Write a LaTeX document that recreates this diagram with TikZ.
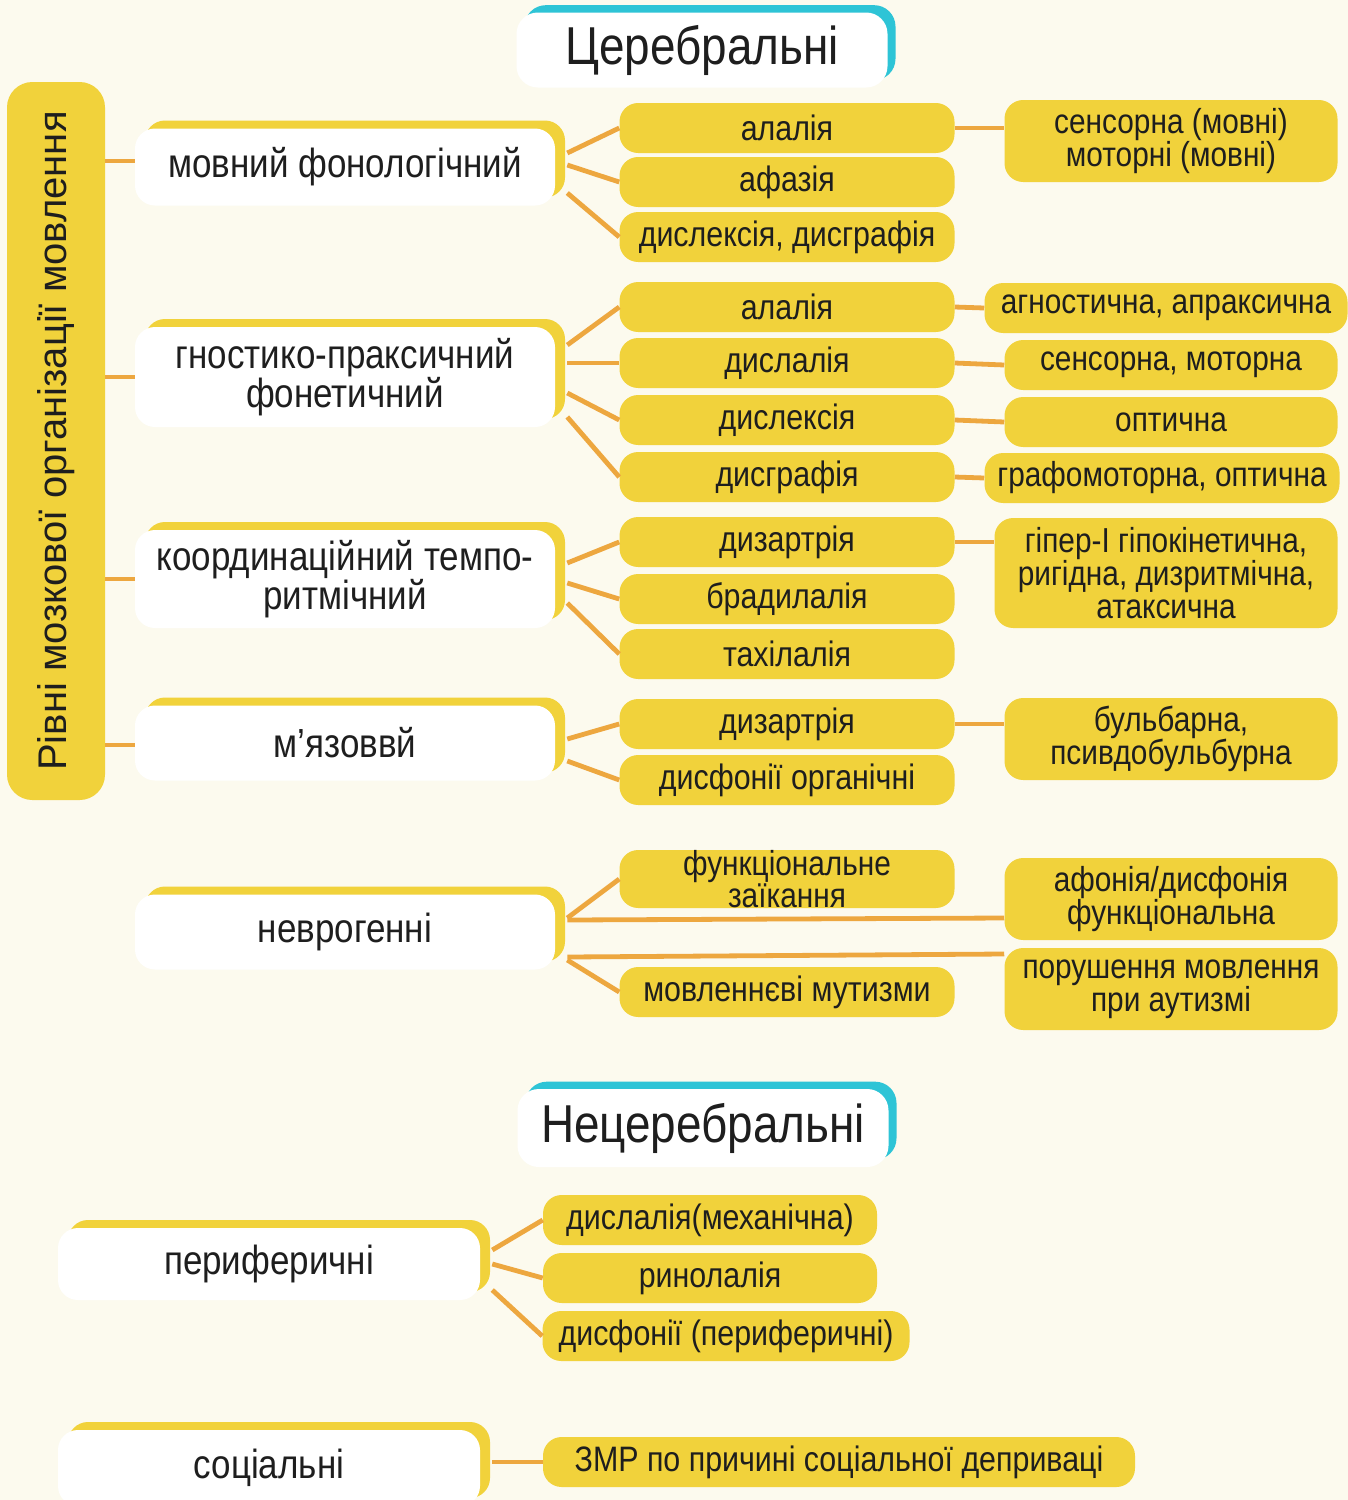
\documentclass[tikz,border=0pt]{standalone}
\usepackage{fontspec}
\setmainfont[FakeStretch=0.86]{Liberation Sans}
\newfontfamily\widefont{Liberation Sans}
\usetikzlibrary{shadows,calc}
\definecolor{bg}{HTML}{FCFAEE}
\definecolor{Y}{HTML}{F1D23B}
\definecolor{Or}{HTML}{EDA73F}
\definecolor{Cy}{HTML}{2EC4D6}
\definecolor{Tx}{HTML}{1E1E1E}
\newcommand{\fsz}[2]{\fontsize{#1pt}{#2pt}\selectfont}
\begin{document}
\begin{tikzpicture}[x=0.75pt,y=-0.75pt,
  mid/.style={fill=Y, rounded corners=14pt, inner sep=0pt, align=center, text=Tx,
    minimum width=335*0.75pt, minimum height=50*0.75pt, font=\fsz{26.5}{24}},
  rgt/.style={fill=Y, rounded corners=14pt, inner sep=0pt, align=center, text=Tx,
    minimum width=333*0.75pt, minimum height=50*0.75pt, font=\fsz{26}{25}},
  lvl/.style={fill=white, rounded corners=15pt, inner sep=0pt, align=center, text=Tx,
    minimum width=420*0.75pt, font=\fsz{30.5}{29},
    copy shadow={shadow xshift=7.5pt, shadow yshift=6pt, fill=Y, draw=none}},
  ttl/.style={fill=white, rounded corners=16pt, inner sep=0pt, text=Tx,
    minimum width=371*0.75pt, font=\fsz{40}{40},
    copy shadow={shadow xshift=6pt, shadow yshift=5.5pt, fill=Cy, draw=none}},
  con/.style={draw=Or, line width=3.6pt}
]
\fill[bg] (0,0) rectangle (1348,1500);
\useasboundingbox (0,0) rectangle (1348,1500);
\begin{scope}
\clip (0,0) rectangle (1348,1500);

% titles
\node[ttl, minimum height=75*0.75pt] (t1) at (702,50) {Церебральні};
\node[ttl, minimum height=78*0.75pt] (t2) at (703,1128) {Нецеребральні};

% vertical bar
\node[fill=Y, rounded corners=19pt, minimum width=98*0.75pt, minimum height=718*0.75pt,
  inner sep=0pt] (bar) at (56,441) {};
\node[rotate=90, text=Tx, font=\widefont\fsz{30}{30}] (bart) at (bar.center) {Рівні мозкової організації мовлення};

% level boxes
\node[lvl, minimum height=77*0.75pt] (l1) at (345,167) {мовний фонологічний};
\node[lvl, minimum height=100*0.75pt] (l2) at (345,377) {гностико-праксичний\\фонетичний};
\node[lvl, minimum height=98*0.75pt] (l3) at (345,579) {координаційний темпо-\\ритмічний};
\node[lvl, minimum height=75*0.75pt] (l4) at (345,743) {м’язоввй};
\node[lvl, minimum height=75*0.75pt] (l5) at (345,932) {неврогенні};
\node[lvl, minimum width=422*0.75pt, minimum height=72*0.75pt] (l6) at (269,1264) {периферичні};
\node[lvl, minimum width=422*0.75pt, minimum height=76*0.75pt] (l7) at (269,1468) {соціальні};

% middle column
\node[mid] (m1) at (787,128) {алалія};
\node[mid] (m2) at (787,182) {афазія};
\node[mid] (m3) at (787,237) {дислексія, дисграфія};
\node[mid] (m4) at (787,307) {алалія};
\node[mid] (m5) at (787,363) {дислалія};
\node[mid] (m6) at (787,420) {дислексія};
\node[mid] (m7) at (787,477) {дисграфія};
\node[mid] (m8) at (787,542) {дизартрія};
\node[mid] (m9) at (787,599) {брадилалія};
\node[mid] (m10) at (787,654) {тахілалія};
\node[mid] (m11) at (787,724) {дизартрія};
\node[mid] (m12) at (787,780) {дисфонії органічні};
\node[mid, minimum height=58*0.75pt, font=\fsz{26}{23.5}] (m13) at (787,879) {функціональне\\заїкання};
\node[mid] (m14) at (787,992) {мовленнєві мутизми};

% right column
\node[rgt, minimum height=82*0.75pt] (r1) at (1171,141) {сенсорна (мовні)\\моторні (мовні)};
\node[rgt, minimum width=363*0.75pt] (r2) at (1166,308) {агностична, апраксична};
\node[rgt] (r3) at (1171,365) {сенсорна, моторна};
\node[rgt] (r4) at (1171,422) {оптична};
\node[rgt, minimum width=355*0.75pt] (r5) at (1162,478) {графомоторна, оптична};
\node[rgt, minimum width=343*0.75pt, minimum height=110*0.75pt] (r6) at (1166,573) {гіпер-І гіпокінетична,\\ригідна, дизритмічна,\\атаксична};
\node[rgt, minimum height=82*0.75pt] (r7) at (1171,739) {бульбарна,\\псивдобульбурна};
\node[rgt, minimum height=82*0.75pt] (r8) at (1171,899) {афонія/дисфонія\\функціональна};
\node[rgt, minimum height=82*0.75pt] (r9) at (1171,989) {порушення мовлення\\при аутизмі};

% non-cerebral
\node[mid, minimum width=334*0.75pt] (n1) at (710,1220) {дислалія(механічна)};
\node[mid, minimum width=334*0.75pt] (n2) at (710,1278) {ринолалія};
\node[mid, minimum width=367*0.75pt] (n3) at (726,1336) {дисфонії (периферичні)};
\node[mid, minimum width=592*0.75pt] (n4) at (839,1462) {ЗМР по причині соціальної деприваці};

% connectors bar -> levels
\draw[con] (bar.east |- l1.center) ++(0,-6) coordinate (b1) -- (b1 -| l1.west);
\draw[con] (bar.east |- l2.center) coordinate (b2) -- (b2 -| l2.west);
\draw[con] (bar.east |- l3.center) coordinate (b3) -- (b3 -| l3.west);
\draw[con] (bar.east |- l4.center) ++(0,2) coordinate (b4) -- (b4 -| l4.west);

% levels -> middle
\coordinate (e1) at ($(l1.east)+(12,0)$);
\draw[con] ($(e1)+(0,-14)$) -- (m1.west);
\draw[con] ($(e1)+(0,-2)$) -- (m2.west);
\draw[con] ($(e1)+(0,26)$) -- (m3.west);
\coordinate (e2) at ($(l2.east)+(12,0)$);
\draw[con] ($(e2)+(0,-32)$) -- (m4.west);
\draw[con] ($(e2)+(0,-14)$) -- (m5.west);
\draw[con] ($(e2)+(0,16)$) -- (m6.west);
\draw[con] ($(e2)+(0,40)$) -- (m7.west);
\coordinate (e3) at ($(l3.east)+(12,0)$);
\draw[con] ($(e3)+(0,-16)$) -- (m8.west);
\draw[con] ($(e3)+(0,4)$) -- (m9.west);
\draw[con] ($(e3)+(0,24)$) -- (m10.west);
\coordinate (e4) at ($(l4.east)+(12,0)$);
\draw[con] ($(e4)+(0,-4)$) -- (m11.west);
\draw[con] ($(e4)+(0,18)$) -- (m12.west);
\coordinate (e5) at ($(l5.east)+(12,0)$);
\draw[con] ($(e5)+(0,-14)$) -- (m13.west);
\draw[con] ($(e5)+(0,-12)$) -- ($(r8.west)+(0,19)$);
\draw[con] ($(e5)+(0,25)$) -- ($(r9.west)+(0,-35)$);
\draw[con] ($(e5)+(0,28)$) -- (m14.west);
\coordinate (e6) at ($(l6.east)+(12,0)$);
\draw[con] ($(e6)+(0,-14)$) -- (n1.west);
\draw[con] ($(e6)+(0,0)$) -- (n2.west);
\draw[con] ($(e6)+(0,26)$) -- (n3.west);
\draw[con] (l7.east |- n4.west) ++(12,0) coordinate (e7) -- (n4.west);

% middle -> right
\draw[con] (m1.east) -- (m1.east -| r1.west);
\draw[con] (m4.east) -- (r2.west);
\draw[con] (m5.east) -- (r3.west);
\draw[con] (m6.east) -- (r4.west);
\draw[con] (m7.east) -- (r5.west);
\draw[con] (m8.east) -- (m8.east -| r6.west);
\draw[con] (m11.east) -- (m11.east -| r7.west);
\end{scope}
\end{tikzpicture}
\end{document}
